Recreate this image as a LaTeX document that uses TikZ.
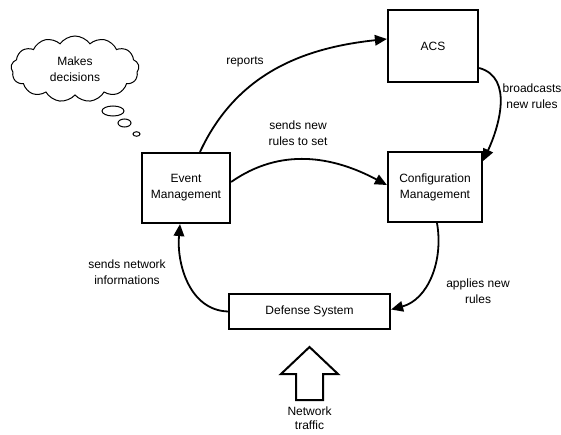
\documentclass[tikz,border=0pt]{standalone}
\usepackage{fontspec}
\setmainfont{Liberation Sans}
\usetikzlibrary{arrows.meta,shapes.symbols,shapes.geometric}
\begin{document}
\begin{tikzpicture}[x=1pt,y=1pt,
  font=\fontsize{12}{16}\selectfont,
  box/.style={draw,line width=2.2pt,inner sep=0pt,align=center},
  conn/.style={line width=1.8pt,-{Triangle[length=12pt,width=10.5pt]}},
  lbl/.style={align=center,inner sep=0pt},
  bubble/.style={draw,ellipse,line width=1pt,inner sep=0pt}]
\useasboundingbox (0,0) rectangle (561,434);
% boxes
\node[box,minimum width=90,minimum height=72] (acs) at (433,388) {ACS};
\node[box,minimum width=88,minimum height=70] (em) at (186,246) {Event\\Management};
\node[box,minimum width=94,minimum height=70] (cm) at (435,247) {Configuration\\Management};
\node[box,minimum width=161,minimum height=35] (ds) at (309.5,122.5) {Defense System};
% cloud
\node[draw,cloud,cloud puffs=13,cloud puff arc=110,aspect=2.1,line width=1pt,
  minimum width=128,minimum height=66,inner sep=0pt,align=center] (cloud) at (75,365) {Makes\\decisions};
\node[bubble,minimum width=22,minimum height=10] (b1) at (113,323) {};
\node[bubble,minimum width=13,minimum height=8] (b2) at (124.5,311) {};
\node[bubble,minimum width=7,minimum height=4.5] (b3) at (136.5,300) {};
% connectors
\draw[conn] ([xshift=14]em.north) to[out=65,in=186] ([yshift=7]acs.west);
\draw[conn] ([yshift=6]em.east) to[out=35,in=152] ([yshift=2]cm.west);
\draw[conn] ([yshift=-22]acs.east) to[out=-15,in=65] ([yshift=26]cm.east);
\draw[conn] ([xshift=2]cm.south) to[out=-80,in=15] ([yshift=2]ds.east);
\draw[conn] (ds.west) to[out=178,in=-95] ([xshift=-6]em.south);
% labels
\node[lbl] (lrep) at (245,372) {reports};
\node[lbl] (lsend) at (298,301) {sends new\\rules to set};
\node[lbl] (lbro) at (532,338) {broadcasts\\new rules};
\node[lbl] (lapp) at (478,143) {applies new\\rules};
\node[lbl] (lnet) at (127,162) {sends network\\informations};
% big traffic arrow
\draw[line width=2pt,line join=miter] (309.5,87) -- (338,60) -- (323,60) -- (323,34) -- (296,34) -- (296,60) -- (281,60) -- cycle;
\node[lbl,font=\fontsize{12}{14}\selectfont] (ltraf) at (309.5,16) {Network\\traffic};
\end{tikzpicture}
\end{document}
